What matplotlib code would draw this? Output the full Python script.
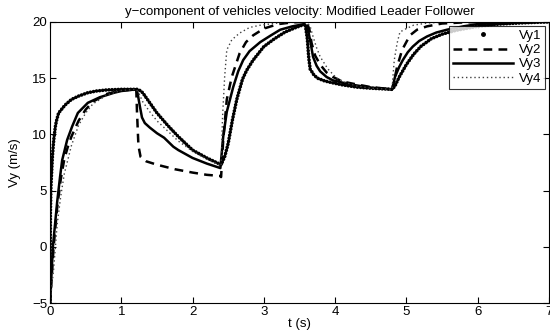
import matplotlib
matplotlib.use("Agg")
import matplotlib.pyplot as plt
from matplotlib.lines import Line2D

plt.rcParams['font.family'] = ['Liberation Sans', 'DejaVu Sans']

# values
t1 = [0, 0.005, 0.012, 0.025, 0.035, 0.045, 0.055, 0.065, 0.075, 0.09, 0.12, 0.21, 0.3, 0.4,
      0.53, 0.65, 0.8, 1.0, 1.22,
      1.26, 1.3, 1.4, 1.5, 1.65, 1.8, 2.0, 2.2, 2.4,
      2.45, 2.5, 2.56, 2.62, 2.7, 2.76, 2.85, 3.0, 3.15, 3.3, 3.45, 3.58,
      3.61, 3.63, 3.65, 3.7, 3.75, 3.85, 3.95, 4.1, 4.3, 4.5, 4.8,
      4.84, 4.9, 5.0, 5.1, 5.2, 5.35, 5.5, 5.7, 6.0, 6.3, 6.6, 7.0]
vy1 = [-5, 3.0, 5.3, 7.0, 8.2, 9.0, 9.7, 10.2, 10.7, 11.2, 11.9, 12.6, 13.1, 13.4,
       13.7, 13.85, 13.95, 14.0, 14.0,
       13.9, 13.7, 12.8, 11.9, 10.8, 9.8, 8.6, 7.9, 7.3,
       8.0, 9.2, 11.3, 13.1, 14.9, 15.7, 16.6, 17.8, 18.5, 19.1, 19.5, 19.8,
       18.5, 16.8, 15.8, 15.3, 15.0, 14.75, 14.6, 14.4, 14.2, 14.1, 14.0,
       14.3, 15.1, 16.2, 17.1, 17.8, 18.5, 18.9, 19.25, 19.6, 19.8, 19.9, 20.0]

t2 = [0, 0.05, 0.1, 0.15, 0.2, 0.25, 0.3, 0.4, 0.5, 0.6, 0.8, 1.0, 1.21,
      1.22, 1.24, 1.27, 1.35, 1.5, 1.75, 2.0, 2.2, 2.39, 2.4,
      2.43, 2.48, 2.55, 2.66, 2.75, 2.85, 3.0, 3.2, 3.4, 3.6,
      3.64, 3.67, 3.72, 3.79, 3.88, 3.97, 4.1, 4.25, 4.5, 4.8,
      4.83, 4.87, 4.94, 5.05, 5.15, 5.29, 5.5, 5.8, 6.2, 7.0]
vy2 = [-5, 0, 3.5, 6.0, 7.8, 8.9, 9.8, 11.2, 12.2, 12.9, 13.6, 13.9, 14.0,
       12.0, 9.0, 8.0, 7.6, 7.3, 6.9, 6.6, 6.4, 6.3, 6.2,
       9.5, 13.1, 15.1, 17.2, 18.2, 18.8, 19.4, 19.8, 19.95, 20.0,
       19.3, 18.1, 17.0, 16.2, 15.5, 15.1, 14.7, 14.5, 14.2, 14.0,
       14.8, 16.0, 17.5, 18.8, 19.3, 19.6, 19.85, 19.95, 20.0, 20.0]

t3 = [0, 0.04, 0.1, 0.14, 0.17, 0.24, 0.31, 0.39, 0.53, 0.7, 0.9, 1.0, 1.21,
      1.23, 1.26, 1.29, 1.33, 1.4, 1.5, 1.6, 1.73, 1.8, 2.0, 2.2, 2.39,
      2.43, 2.48, 2.57, 2.64, 2.71, 2.8, 2.95, 3.1, 3.23, 3.4, 3.57,
      3.62, 3.66, 3.69, 3.74, 3.79, 3.88, 3.97, 4.1, 4.25, 4.5, 4.8,
      4.84, 4.9, 4.95, 5.02, 5.09, 5.18, 5.29, 5.42, 5.57, 5.8, 6.0, 6.4, 7.0]
vy3 = [-5, 0, 4.0, 6.2, 7.7, 9.5, 10.7, 11.9, 12.8, 13.3, 13.7, 13.85, 14.0,
       13.6, 12.5, 11.5, 11.0, 10.6, 10.1, 9.7, 8.9, 8.6, 7.9, 7.4, 7.0,
       9.8, 12.0, 14.2, 15.6, 16.6, 17.4, 18.2, 18.8, 19.3, 19.6, 19.8,
       19.3, 18.0, 16.9, 16.1, 15.6, 15.1, 14.8, 14.6, 14.4, 14.15, 14.0,
       15.1, 16.0, 16.6, 17.3, 17.8, 18.3, 18.7, 19.05, 19.3, 19.6, 19.8, 19.95, 20.0]

t4 = [0, 0.05, 0.1, 0.15, 0.2, 0.3, 0.4, 0.5, 0.6, 0.8, 1.0, 1.21,
      1.25, 1.3, 1.4, 1.5, 1.6, 1.8, 2.0, 2.2, 2.4,
      2.42, 2.45, 2.48, 2.55, 2.66, 2.8, 2.95, 3.2, 3.6,
      3.65, 3.69, 3.74, 3.79, 3.9, 4.02, 4.15, 4.3, 4.5, 4.8,
      4.81, 4.83, 4.87, 4.91, 5.0, 5.1, 5.3, 5.6, 7.0]
vy4 = [-5, -2, 2.0, 4.5, 6.5, 9.0, 10.8, 11.9, 12.7, 13.5, 13.9, 14.0,
       13.6, 12.9, 12.0, 11.2, 10.6, 9.4, 8.5, 7.8, 7.2,
       11.5, 15.1, 17.5, 18.4, 19.0, 19.5, 19.7, 19.9, 20.0,
       19.6, 18.7, 17.7, 16.9, 15.8, 15.0, 14.6, 14.3, 14.1, 14.0,
       15.0, 16.6, 18.1, 19.1, 19.4, 19.7, 19.9, 20.0, 20.0]

labels = ["Vy1", "Vy2", "Vy3", "Vy4"]

fs = 9.5

fig = plt.figure(figsize=(5.5, 3.36), dpi=100)
ax = fig.add_axes([0.091, 0.098, 0.907, 0.837])

ax.plot(t1, vy1, color="k", lw=2.6, ls=(0, (0.01, 0.85)), dash_capstyle="round")
ax.plot(t2, vy2, color="k", lw=1.8, ls=(0, (3.5, 2.5)))
ax.plot(t3, vy3, color="k", lw=1.8)
ax.plot(t4, vy4, color="0.25", lw=1.0, ls=(0, (1, 2)))

ax.set_xlim(0, 7)
ax.set_ylim(-5, 20)
ax.set_xticks(range(0, 8))
ax.set_yticks([-5, 0, 5, 10, 15, 20])
ax.tick_params(direction="in", top=True, right=True, length=4, labelsize=fs, pad=2)
for s in ax.spines.values():
    s.set_linewidth(0.8)

ax.set_title("y\u2212component of vehicles velocity: Modified Leader Follower", fontsize=fs, pad=5)
ax.set_xlabel("t (s)", fontsize=fs, labelpad=0)
ax.set_ylabel("Vy (m/s)", fontsize=fs, labelpad=8)

# legend handles (Vy1 shows a single dot like the original)
handles = [Line2D([], [], color="k", marker=".", ls="none", markersize=5),
           Line2D([], [], color="k", lw=1.8, ls=(0, (3.5, 2.5))),
           Line2D([], [], color="k", lw=1.8),
           Line2D([], [], color="0.25", lw=1.0, ls=(0, (1, 2)))]
leg = ax.legend(handles, labels, loc="upper right", fontsize=fs, handlelength=4.6,
                frameon=True, fancybox=False, borderaxespad=0.3, labelspacing=0.15,
                handletextpad=0.4, borderpad=0.3)
leg.get_frame().set_edgecolor("k")
leg.get_frame().set_linewidth(0.8)

fig.savefig("out.png", dpi=100)
